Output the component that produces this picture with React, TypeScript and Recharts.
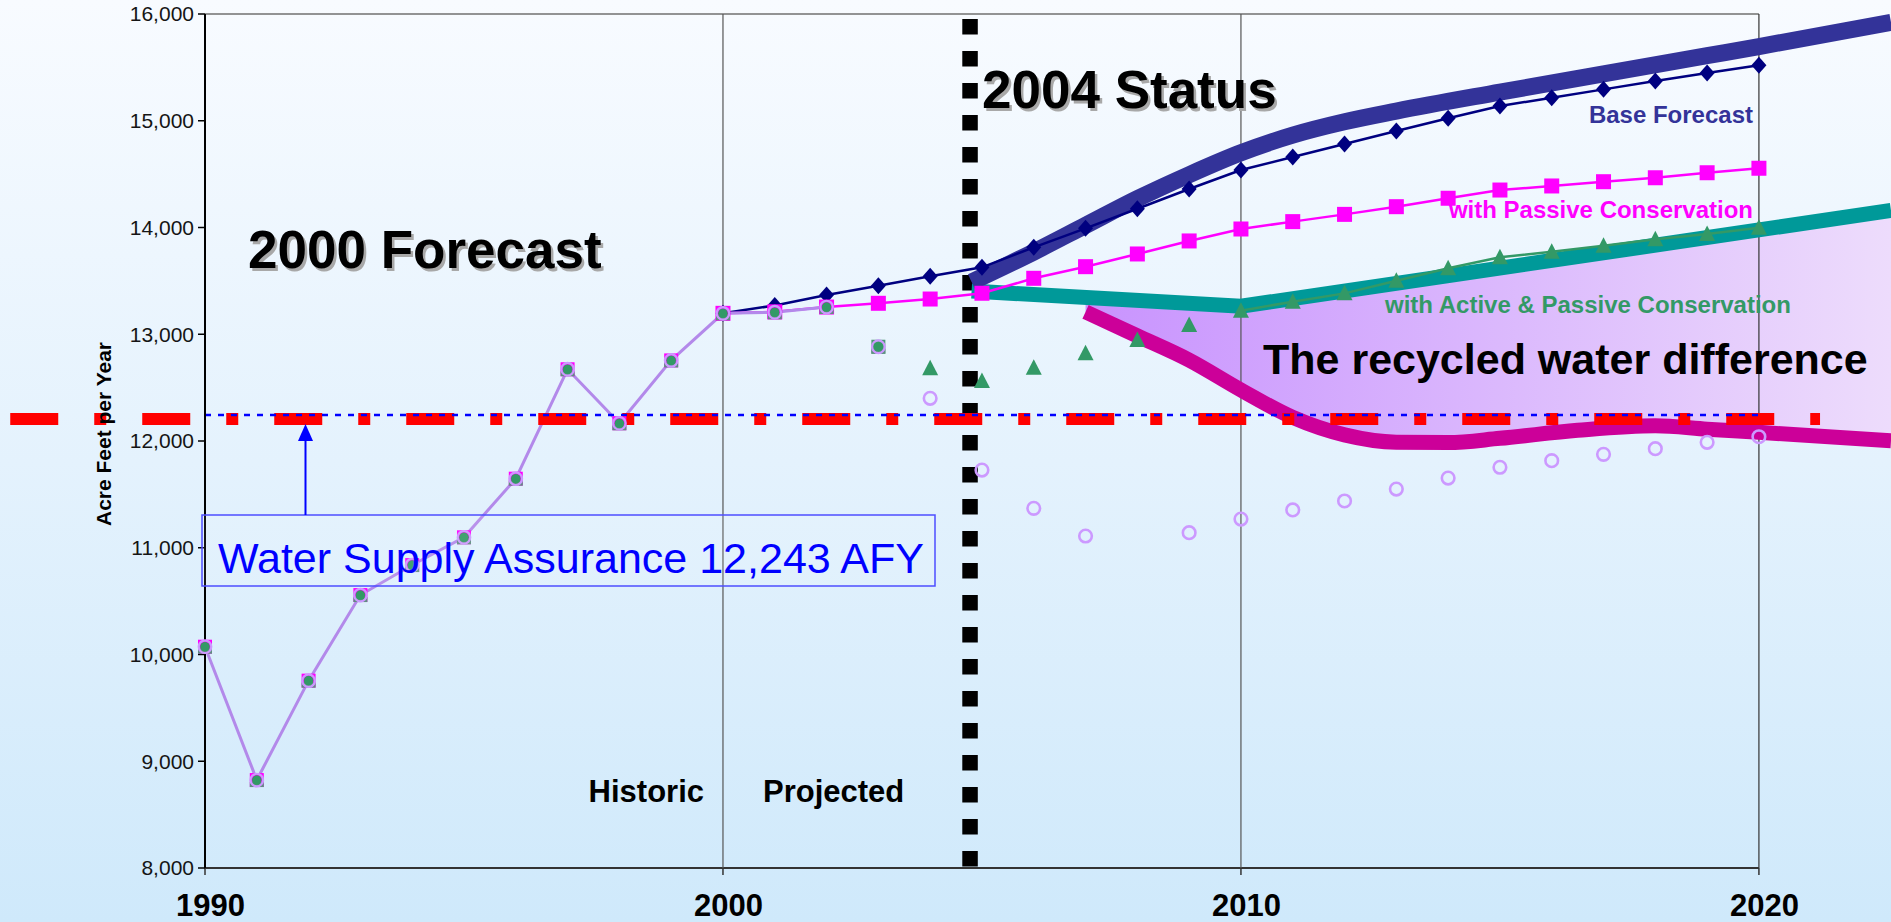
import React from "react";
import {
  ComposedChart,
  Line,
  Area,
  XAxis,
  YAxis,
  ReferenceLine,
} from "recharts";

const FONT = "'Liberation Sans', Arial, Helvetica, sans-serif";

// historic use (all scenarios share it)
const HIST_YEARS = [1990, 1991, 1992, 1993, 1994, 1995, 1996, 1997, 1998, 1999, 2000, 2001, 2002];
const HIST = [10073, 8824, 9755, 10557, 10838, 11098, 11647, 12672, 12166, 12755, 13196, 13206, 13255];

// 2000 forecast scenarios
const FC_YEARS = [2000, 2001, 2002, 2003, 2004, 2005, 2006, 2007, 2008, 2009, 2010, 2011, 2012, 2013, 2014, 2015, 2016, 2017, 2018, 2019, 2020];
const BASE = [13196, 13270, 13368, 13455, 13543, 13627, 13814, 13992, 14176, 14361, 14539, 14660, 14782, 14904, 15023, 15138, 15216, 15294, 15372, 15447, 15519];
const PASSIVE = [13196, 13210, 13255, 13290, 13330, 13384, 13524, 13633, 13752, 13874, 13986, 14055, 14123, 14195, 14274, 14351, 14389, 14429, 14466, 14513, 14555];

const ACTIVE_YEARS = [2004, 2005, 2006, 2007, 2008, 2009, 2010, 2011, 2012, 2013, 2014, 2015, 2016, 2017, 2018, 2019, 2020];
const ACTIVE = [12681, 12562, 12687, 12821, 12946, 13087, 13221, 13305, 13383, 13502, 13618, 13721, 13773, 13830, 13889, 13939, 13998];

const RECYCLED_YEARS = [2003, 2004, 2005, 2006, 2007, 2008, 2009, 2010, 2011, 2012, 2013, 2014, 2015, 2016, 2017, 2018, 2019, 2020];
const RECYCLED = [12883, 12400, 11728, 11369, 11110, null, 11141, 11269, 11354, 11438, 11550, 11653, 11754, 11816, 11875, 11928, 11988, 12040];

// 2004 status curves
const NAVY_X = [2004.8, 2006, 2007, 2008, 2009, 2010, 2011, 2012, 2013, 2015, 2017, 2019, 2020, 2022.55];
const NAVY = [13490, 13770, 14020, 14270, 14495, 14700, 14865, 14990, 15090, 15268, 15440, 15610, 15695, 15922];

const TEAL_X = [2004.8, 2010, 2022.55];
const TEAL = [13405, 13262, 14160];

const RECYC_X = [2007, 2008, 2009, 2010, 2011, 2012, 2013, 2014, 2015, 2016.5, 2018, 2019, 2020, 2022.55];
const RECYC_LOW = [13210, 12985, 12758, 12478, 12221, 12057, 11988, 11985, 12025, 12100, 12143, 12111, 12081, 12003];
const RECYC_TOP = [13344, 13317, 13289, 13262, 13334, 13405, 13477, 13548, 13620, 13727, 13834, 13906, 13978, 14160];

const SUPPLY = 12243;
const SUPPLY_BAR = 12205;
const RED_START = 1986.24;
const RED_END = 2021.18;
const STATUS_YEAR = 2004.77;
const X_TICKS = [1990, 2000, 2010, 2020];
const Y_TICKS = [8000, 9000, 10000, 11000, 12000, 13000, 14000, 15000, 16000];

const pts = (xs: number[], ys: (number | null)[]) => xs.map((x, i) => ({ x, y: ys[i] }));

const histData = pts(HIST_YEARS, HIST);
const baseData = pts(FC_YEARS, BASE);
const passiveData = pts(FC_YEARS, PASSIVE);
const activeData = pts(ACTIVE_YEARS, ACTIVE);
const activeLineData = activeData.filter((d) => d.x >= 2010);
const recycledData = pts(RECYCLED_YEARS, RECYCLED);
const navyData = pts(NAVY_X, NAVY);
const tealData = pts(TEAL_X, TEAL);
const recycData = pts(RECYC_X, RECYC_LOW);
const areaData = RECYC_X.map((x, i) => ({ x, range: [RECYC_LOW[i], RECYC_TOP[i]] }));

const empty = (k: any) => <g key={k} />;

const diamondDot = (p: any) => {
  const { cx, cy, index } = p;
  if (cx == null || cy == null) return empty(index);
  return (
    <path
      key={index}
      d={`M${cx},${cy - 8.5}L${cx + 7.5},${cy}L${cx},${cy + 8.5}L${cx - 7.5},${cy}Z`}
      fill="#000080"
    />
  );
};

const squareDot = (p: any) => {
  const { cx, cy, index } = p;
  if (cx == null || cy == null) return empty(index);
  return <rect key={index} x={cx - 7.5} y={cy - 7.5} width={15} height={15} fill="#ff00ff" />;
};

const triangleDot = (p: any) => {
  const { cx, cy, index } = p;
  if (cx == null || cy == null) return empty(index);
  return (
    <path key={index} d={`M${cx},${cy - 8.5}L${cx + 8},${cy + 7}L${cx - 8},${cy + 7}Z`} fill="#339966" />
  );
};

const histMarker = (cx: number, cy: number, key: any, magenta = true) => (
  <g key={key}>
    <rect x={cx - 7} y={cy - 7} width={14} height={14} fill={magenta ? "#ff00ff" : "#4f9a78"} />
    <rect x={cx - 7} y={cy + 2} width={14} height={5} fill="#5f8f80" />
    <circle cx={cx} cy={cy} r={4.8} fill="#339966" />
    <circle cx={cx} cy={cy} r={6.3} fill="none" stroke="#cc99ff" strokeWidth={2.2} />
  </g>
);

const histDot = (p: any) => {
  const { cx, cy, index } = p;
  if (cx == null || cy == null) return empty(index);
  return histMarker(cx, cy, index);
};

const ringDot = (p: any) => {
  const { cx, cy, index, payload } = p;
  if (cx == null || cy == null || payload.y == null) return empty(index);
  if (payload.x <= 2003) return histMarker(cx, cy, index, false);
  return <circle key={index} cx={cx} cy={cy} r={6.3} fill="none" stroke="#cc99ff" strokeWidth={2.6} />;
};

const XTick = (p: any) => {
  const { x, y, payload } = p;
  return (
    <text x={x + 5.5} y={y + 41} textAnchor="middle" fontFamily={FONT} fontWeight="bold" fontSize={31} fill="#000">
      {payload.value}
    </text>
  );
};

const shadowText = (x: number, y: number, size: number, str: string) => (
  <g>
    <text x={x + 2.5} y={y + 2.5} fontFamily={FONT} fontWeight="bold" fontSize={size} fill="#a8a8a8">
      {str}
    </text>
    <text x={x} y={y} fontFamily={FONT} fontWeight="bold" fontSize={size} fill="#000">
      {str}
    </text>
  </g>
);

function Annotations() {
  return (
    <svg
      width={1891}
      height={922}
      style={{ position: "absolute", left: 0, top: 0, pointerEvents: "none" }}
    >
      <text
        x={111}
        y={434}
        transform="rotate(-90 111 434)"
        textAnchor="middle"
        fontFamily={FONT}
        fontWeight="bold"
        fontSize={21}
        fill="#000"
      >
        Acre Feet per Year
      </text>
      {shadowText(248, 268, 53, "2000 Forecast")}
      {shadowText(982, 108, 53, "2004 Status")}
      <text x={1263} y={374} fontFamily={FONT} fontWeight="bold" fontSize={43} fill="#000">
        The recycled water difference
      </text>
      <text x={1753} y={123} textAnchor="end" fontFamily={FONT} fontWeight="bold" fontSize={24} fill="#333399">
        Base Forecast
      </text>
      <text x={1753} y={218} textAnchor="end" fontFamily={FONT} fontWeight="bold" fontSize={24} fill="#ff00ff">
        with Passive Conservation
      </text>
      <text x={1385} y={313} fontFamily={FONT} fontWeight="bold" fontSize={24} fill="#339966">
        with Active &amp; Passive Conservation
      </text>
      <text x={704} y={802} textAnchor="end" fontFamily={FONT} fontWeight="bold" fontSize={31} fill="#000">
        Historic
      </text>
      <text x={763} y={802} fontFamily={FONT} fontWeight="bold" fontSize={31} fill="#000">
        Projected
      </text>
      <rect x={202} y={515} width={733} height={71} fill="rgba(255,255,255,0.08)" stroke="#4d4dff" strokeWidth={1.5} />
      <text x={218} y={573} fontFamily={FONT} fontSize={43} fill="#0000ff">
        Water Supply Assurance 12,243 AFY
      </text>
      <line x1={305.5} y1={515} x2={305.5} y2={438} stroke="#0000ff" strokeWidth={2} />
      <path d="M305.5,424L313,441L298,441Z" fill="#0000ff" />
    </svg>
  );
}

export default function App() {
  return (
    <div
      style={{
        position: "absolute",
        left: 0,
        top: 0,
        width: 1891,
        height: 922,
        overflow: "hidden",
        background: "linear-gradient(to bottom, #f8fbff 0%, #e4f2fd 50%, #cfe9fb 100%)",
        fontFamily: FONT,
      }}
    >
      <ComposedChart width={1891} height={922} margin={{ top: 14, right: 0, bottom: 0, left: 145 }}>
        <defs>
          <linearGradient id="recycGrad" x1="0" y1="0" x2="1" y2="0">
            <stop offset="0%" stopColor="#c893fe" />
            <stop offset="100%" stopColor="#eddcfc" />
          </linearGradient>
        </defs>
        <XAxis
          type="number"
          dataKey="x"
          domain={[1990, 2022.55]}
          ticks={X_TICKS}
          axisLine={false}
          tickLine={{ stroke: "#333", strokeWidth: 1.5 }}
          tickSize={7}
          tickMargin={0}
          height={54}
          tick={<XTick />}
          interval={0}
        />
        <YAxis
          type="number"
          domain={[8000, 16000]}
          ticks={Y_TICKS}
          width={60}
          axisLine={{ stroke: "#000", strokeWidth: 2 }}
          tickLine={{ stroke: "#000", strokeWidth: 1.5 }}
          tickSize={7}
          tickMargin={4}
          tickFormatter={(v: number) => v.toLocaleString("en-US")}
          tick={{ fontSize: 21, fill: "#151515", fontFamily: FONT }}
          interval={0}
        />

        <Area
          data={areaData}
          dataKey="range"
          type="monotone"
          fill="url(#recycGrad)"
          fillOpacity={1}
          stroke="none"
          isAnimationActive={false}
          activeDot={false}
        />

        <ReferenceLine segment={[{ x: 1990, y: 16000 }, { x: 2020, y: 16000 }]} stroke="#707070" strokeWidth={1.5} />
        <ReferenceLine segment={[{ x: 1990, y: 8000 }, { x: 2020, y: 8000 }]} stroke="#333" strokeWidth={2} />
        <ReferenceLine segment={[{ x: 2000, y: 16000 }, { x: 2000, y: 8000 }]} stroke="#555" strokeWidth={1.2} />
        <ReferenceLine segment={[{ x: 2010, y: 16000 }, { x: 2010, y: 8000 }]} stroke="#555" strokeWidth={1.2} />
        <ReferenceLine segment={[{ x: 2020, y: 16000 }, { x: 2020, y: 8000 }]} stroke="#333" strokeWidth={1.2} />
        <ReferenceLine
          segment={[{ x: STATUS_YEAR, y: 16000 }, { x: STATUS_YEAR, y: 8000 }]}
          stroke="#000"
          strokeWidth={15.5}
          strokeDasharray="15.5 16.5"
          strokeDashoffset={27}
        />

        <Line data={tealData} dataKey="y" type="linear" stroke="#009999" strokeWidth={15} dot={false} activeDot={false} isAnimationActive={false} />
        <Line data={recycData} dataKey="y" type="monotone" stroke="#cc0099" strokeWidth={15} dot={false} activeDot={false} isAnimationActive={false} />
        <Line data={navyData} dataKey="y" type="monotone" stroke="#333399" strokeWidth={17} dot={false} activeDot={false} isAnimationActive={false} />

        <Line data={recycledData} dataKey="y" stroke="none" dot={ringDot} activeDot={false} isAnimationActive={false} />
        <Line data={activeLineData} dataKey="y" stroke="#339966" strokeWidth={2.5} dot={false} activeDot={false} isAnimationActive={false} />
        <Line data={activeData} dataKey="y" stroke="none" dot={triangleDot} activeDot={false} isAnimationActive={false} />
        <Line data={baseData} dataKey="y" stroke="#000080" strokeWidth={2.5} dot={diamondDot} activeDot={false} isAnimationActive={false} />
        <Line data={passiveData} dataKey="y" stroke="#ff00ff" strokeWidth={2.5} dot={squareDot} activeDot={false} isAnimationActive={false} />
        <Line data={histData} dataKey="y" stroke="#b389ea" strokeWidth={3} dot={histDot} activeDot={false} isAnimationActive={false} />

        <ReferenceLine
          segment={[{ x: RED_START, y: SUPPLY_BAR }, { x: RED_END, y: SUPPLY_BAR }]}
          ifOverflow="visible"
          stroke="#ff0000"
          strokeWidth={12}
          strokeDasharray="48 36 12 36"
        />
        <ReferenceLine
          segment={[{ x: 1990, y: SUPPLY }, { x: 2020, y: SUPPLY }]}
          stroke="#0000ff"
          strokeWidth={2.5}
          strokeDasharray="6 7"
        />
      </ComposedChart>
      <Annotations />
    </div>
  );
}
